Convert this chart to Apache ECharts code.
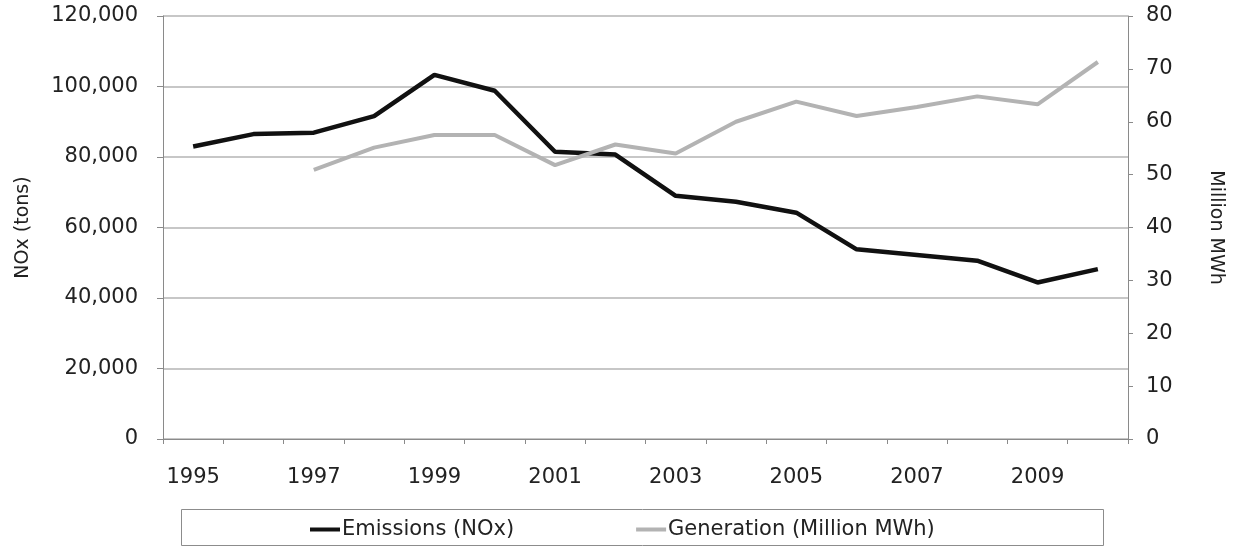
<!DOCTYPE html>
<html>
<head>
<meta charset="utf-8">
<script src="https://cdn.jsdelivr.net/npm/echarts@6/dist/echarts.min.js"></script>
<style>
html,body{margin:0;padding:0;background:#ffffff;}
#chart{width:1233px;height:548px;}
</style>
</head>
<body>
<div id="chart"></div>
<script>
const years = ['1995','1996','1997','1998','1999','2000','2001','2002','2003','2004','2005','2006','2007','2008','2009','2010'];
const emissions = [83000, 86500, 86900, 91600, 103300, 98800, 81500, 80700, 69000, 67300, 64200, 53800, 52200, 50600, 44400, 48200];
const generation = [null, null, 50.9, 55.1, 57.5, 57.5, 51.8, 55.7, 54.0, 60.0, 63.8, 61.1, 62.8, 64.8, 63.3, 71.3];
const leftTicks = {min: 0, max: 120000, interval: 20000};
const rightTicks = {min: 0, max: 80, interval: 10};
const seriesNames = ['Emissions (NOx)', 'Generation (Million MWh)'];
const axisNames = ['NOx (tons)', 'Million MWh'];

const FONT = 'DejaVu Sans';
const FS = 21;
const TXT = '#222222';
const chart = echarts.init(document.getElementById('chart'), null, {renderer: 'canvas'});
chart.setOption({
  backgroundColor: '#ffffff',
  animation: false,
  textStyle: {fontFamily: FONT},
  grid: {left: 163, right: 105, top: 16, bottom: 109, containLabel: false},
  graphic: [{
    type: 'rect', left: 181, top: 509,
    shape: {width: 922, height: 36},
    style: {fill: '#ffffff', stroke: '#8c8c8c', lineWidth: 1}
  }],
  legend: {
    left: 305, top: 514,
    itemWidth: 30, itemHeight: 4, itemGap: 122,
    icon: 'rect',
    textStyle: {fontFamily: FONT, fontSize: 21, color: TXT, padding: [0, 0, 0, -3]},
    data: seriesNames
  },
  xAxis: {
    type: 'category', data: years, boundaryGap: true,
    axisLine: {show: true, lineStyle: {color: '#8a8a8a', width: 1}},
    axisTick: {show: true, interval: 0, length: 5, lineStyle: {color: '#8a8a8a'}},
    axisLabel: {interval: 1, fontFamily: FONT, fontSize: FS, color: TXT, margin: 28},
    splitLine: {show: false}
  },
  yAxis: [{
    type: 'value', position: 'left', ...leftTicks,
    name: axisNames[0], nameLocation: 'middle', nameGap: 130, nameRotate: 90,
    nameTextStyle: {fontFamily: FONT, fontSize: 19, color: TXT},
    axisLine: {show: true, lineStyle: {color: '#8a8a8a'}},
    axisTick: {show: true, length: 6, lineStyle: {color: '#8a8a8a'}},
    axisLabel: {fontFamily: FONT, fontSize: FS, color: TXT, margin: 25,
      formatter: v => v.toLocaleString('en-US')},
    splitLine: {show: true, lineStyle: {color: '#b5b5b5', width: 1.5}}
  }, {
    type: 'value', position: 'right', ...rightTicks,
    name: axisNames[1], nameLocation: 'middle', nameGap: 78, nameRotate: -90,
    nameTextStyle: {fontFamily: FONT, fontSize: 19, color: TXT},
    axisLine: {show: true, lineStyle: {color: '#8a8a8a'}},
    axisTick: {show: true, length: 5, lineStyle: {color: '#8a8a8a'}},
    axisLabel: {fontFamily: FONT, fontSize: FS, color: TXT, margin: 18},
    splitLine: {show: false}
  }],
  series: [{
    name: seriesNames[0], type: 'line', yAxisIndex: 0, data: emissions,
    symbol: 'none', color: '#111111',
    lineStyle: {color: '#111111', width: 4.5}
  }, {
    name: seriesNames[1], type: 'line', yAxisIndex: 1, data: generation,
    symbol: 'none', color: '#b3b3b3',
    lineStyle: {color: '#b3b3b3', width: 4}
  }]
});
</script>
</body>
</html>
